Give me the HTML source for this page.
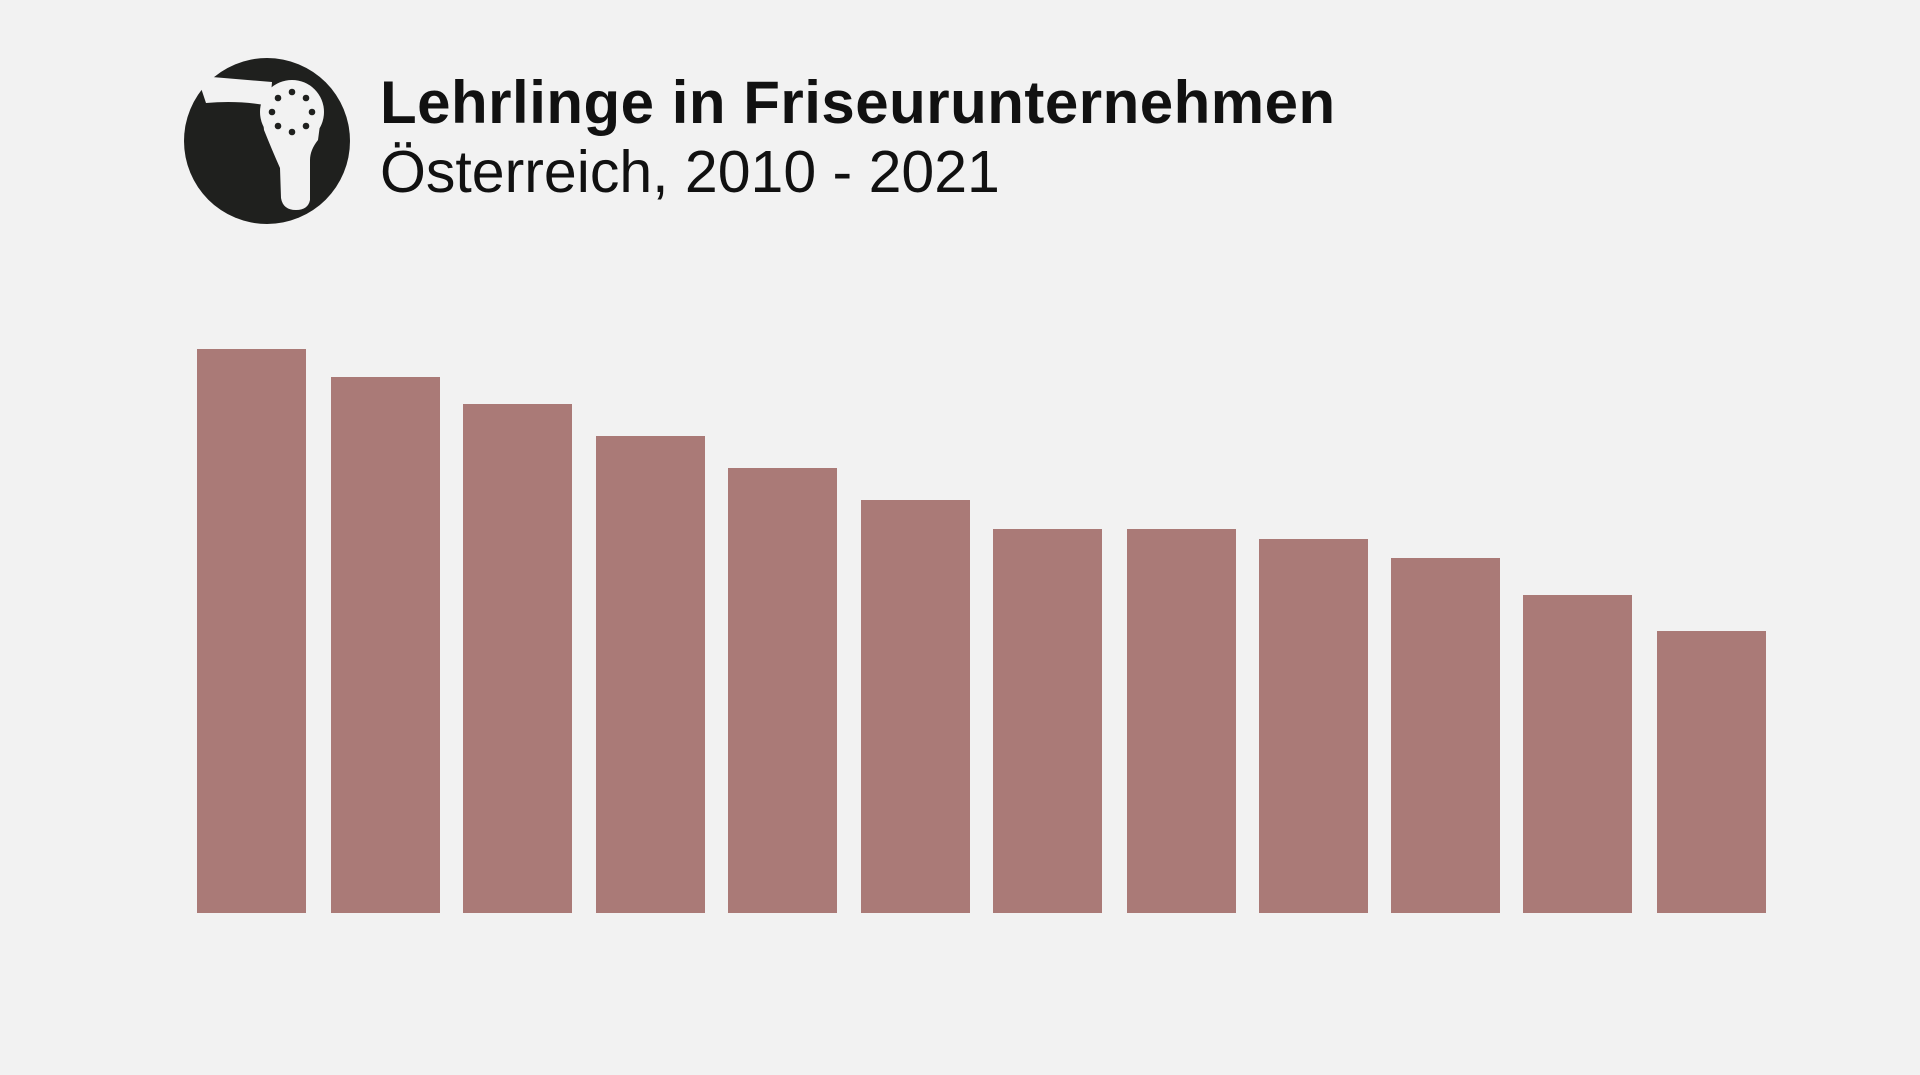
<!DOCTYPE html>
<html><head><meta charset="utf-8"><style>
html,body{margin:0;padding:0;background:#f2f2f2;}
body{width:1920px;height:1075px;position:relative;overflow:hidden;font-family:"Liberation Sans",sans-serif;}
.t{position:absolute;left:380px;color:#111;white-space:nowrap;}
.b{position:absolute;background:#aa7a77;width:109px;bottom:162px;}
</style></head><body>
<svg style="position:absolute;left:0;top:0" width="400" height="260">
<circle cx="267" cy="141" r="83" fill="#1f201e"/>
<g fill="#f2f2f2">
<path d="M201,88 Q203,78 212,77 L272,82 L270,106 Q240,100 206,103 Z"/>
<circle cx="292" cy="112" r="32"/>
<path d="M262,110 L322,110 L318,140 Q310,150 310,160 L310,200 Q308,210 296,210 Q283,210 281,198 L280,168 Q272,150 264,130 Z"/>
</g>
<g fill="#1f201e">
<circle cx="292" cy="92" r="3.3"/><circle cx="306" cy="98" r="3.3"/><circle cx="312" cy="112" r="3.3"/><circle cx="306" cy="126" r="3.3"/><circle cx="292" cy="132" r="3.3"/><circle cx="278" cy="126" r="3.3"/><circle cx="272" cy="112" r="3.3"/><circle cx="278" cy="98" r="3.3"/>
</g>
</svg>
<div class="t" style="top:68px;font-size:60px;font-weight:bold;letter-spacing:0.5px">Lehrlinge in Friseurunternehmen</div>
<div class="t" style="top:138px;font-size:59px;">Österreich, 2010 - 2021</div>
<div class="b" style="left:197px;top:349px"></div>
<div class="b" style="left:331px;top:377px"></div>
<div class="b" style="left:463px;top:404px"></div>
<div class="b" style="left:596px;top:436px"></div>
<div class="b" style="left:728px;top:468px"></div>
<div class="b" style="left:861px;top:500px"></div>
<div class="b" style="left:993px;top:529px"></div>
<div class="b" style="left:1127px;top:529px"></div>
<div class="b" style="left:1259px;top:539px"></div>
<div class="b" style="left:1391px;top:558px"></div>
<div class="b" style="left:1523px;top:595px"></div>
<div class="b" style="left:1657px;top:631px"></div>
</body></html>
